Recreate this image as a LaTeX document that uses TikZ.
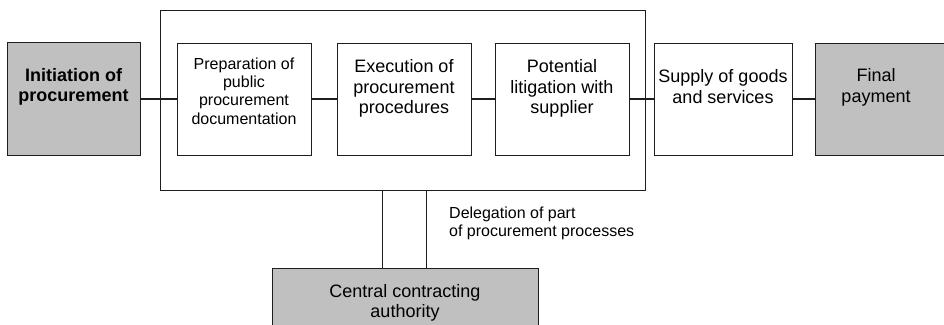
\documentclass[tikz,border=0pt]{standalone}
\usepackage{fontspec}
\setmainfont{Liberation Sans}
\definecolor{boxgray}{RGB}{192,192,192}
\definecolor{lineblk}{RGB}{30,30,30}
\begin{document}
\begin{tikzpicture}[x=1pt,y=-1pt,
  box/.style={draw=lineblk, line width=1pt, inner sep=0pt, fill=white},
  gbox/.style={box, fill=boxgray},
  conn/.style={line width=1.3pt, lineblk},
  vconn/.style={line width=1pt, lineblk},
  lbl/.style={align=center, inner sep=0pt, text=black},
  bigf/.style={font=\fontsize{18}{20.3}\selectfont},
  boldf/.style={font=\fontsize{18}{20.3}\selectfont\bfseries},
  smallf/.style={font=\fontsize{16}{18.2}\selectfont}]
\useasboundingbox (0,0) rectangle (944,324);
\clip (0,0) rectangle (944,324);
\fill[white] (0,0) rectangle (944,324);

% boxes
\node[box, minimum width=485pt, minimum height=180pt] (bigbox) at (402.5,100) {};
\node[gbox, minimum width=133pt, minimum height=113pt] (init) at (73.5,99) {};
\node[box, minimum width=134pt, minimum height=112pt] (prep) at (244,99) {};
\node[box, minimum width=134pt, minimum height=112pt] (exec) at (404,99) {};
\node[box, minimum width=134pt, minimum height=112pt] (pot) at (562,99) {};
\node[box, minimum width=138pt, minimum height=112pt] (supply) at (723,99) {};
\node[gbox, minimum width=140pt, minimum height=112pt] (final) at (885,99) {};
\node[gbox, minimum width=266pt, minimum height=68pt] (central) at (405,302) {};

% texts
\node[lbl, boldf] (initT) at (73.5,87) {Initiation of\\procurement};
\node[lbl, smallf] (prepT) at (244,91) {Preparation of\\public\\procurement\\documentation};
\node[lbl, bigf] (execT) at (404,88.4) {Execution of\\procurement\\procedures};
\node[lbl, bigf] (potT) at (562,88.4) {Potential\\litigation with\\supplier};
\node[lbl, bigf] (supplyT) at (723,86.6) {Supply of goods\\and services};
\node[lbl, bigf] (finalT) at (876,87.4) {Final\\payment};
\node[lbl, bigf] (centralT) at (405,302.5) {Central contracting\\authority};
\node[lbl, smallf, align=left, anchor=west] (delegT) at (449,223) {Delegation of part\\of procurement processes};

% connectors
\draw[conn] (init.east) -- (prep.west);
\draw[conn] (prep.east) -- (exec.west);
\draw[conn] (exec.east) -- (pot.west);
\draw[conn] (pot.east) -- (supply.west);
\draw[conn] (supply.east) -- (final.west);
\coordinate (d1) at (382,0);
\coordinate (d2) at (426,0);
\draw[vconn] (d1 |- bigbox.south) -- (d1 |- central.north);
\draw[vconn] (d2 |- bigbox.south) -- (d2 |- central.north);
\end{tikzpicture}
\end{document}
